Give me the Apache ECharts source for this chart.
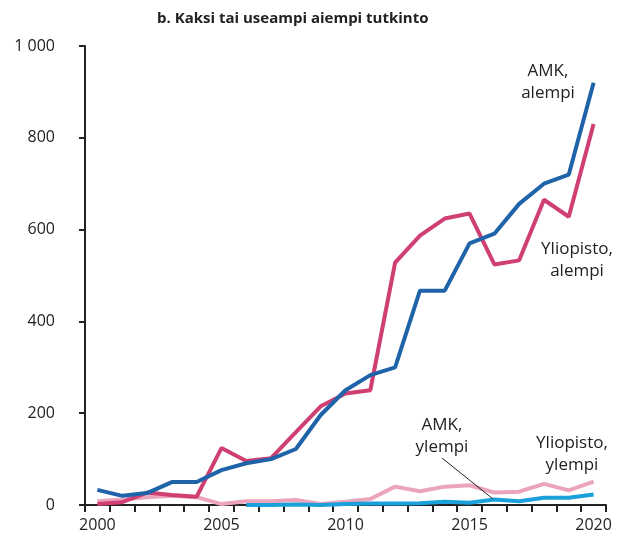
<!DOCTYPE html>
<html>
<head>
<meta charset="utf-8">
<script src="https://cdn.jsdelivr.net/npm/echarts@6/dist/echarts.min.js"></script>
<style>
  html, body { margin: 0; padding: 0; background: #fff; }
  #chart { width: 628px; height: 544px; }
</style>
</head>
<body>
<div id="chart"></div>
<script>
    var years = ['2000', '2001', '2002', '2003', '2004', '2005', '2006', '2007', '2008', '2009', '2010',
        '2011', '2012', '2013', '2014', '2015', '2016', '2017', '2018', '2019', '2020'];
    var amkAlempi = [33, 20, 26, 50, 50, 76, 91, 100, 122, 196, 250, 283, 300, 467, 467, 570, 591, 656, 700, 720, 920];
    var yoAlempi = [2, 6, 27, 22, 18, 124, 96, 102, 159, 215, 243, 250, 528, 587, 624, 635, 524, 533, 665, 628, 830];
    var yoYlempi = [8, 12, 17, 20, 17, 2, 8, 8, 11, 2, 7, 13, 40, 30, 40, 43, 27, 29, 46, 32, 51];
    var amkYlempi = [null, null, null, null, null, null, 0, 0, 1, 0, 2, 3, 3, 4, 7, 5, 12, 8, 16, 16, 23];
    var yTicks = [0, 200, 400, 600, 800, 1000];

    var font = '"Open Sans", "Noto Sans", sans-serif';
    var txt = '#222';

    // nimiöt viivojen vieressä
    function label(text, x, y) {
        return {
            type: 'text', x: x, y: y, z: 10,
            style: { text: text, font: '17px ' + font, fill: txt, align: 'center', verticalAlign: 'top', lineHeight: 22 }
        };
    }

    var myChart = echarts.init(document.getElementById('chart'));
    var option = {
        animation: false,
        title: {
            text: 'b. Kaksi tai useampi aiempi tutkinto',
            left: 152,
            top: 6,
            textStyle: { fontFamily: font, fontSize: 15, fontWeight: 'bold', color: txt }
        },
        grid: { left: 85, right: 22, top: 46, bottom: 39 },
        xAxis: {
            type: 'category',
            data: years,
            boundaryGap: true,
            axisLine: { lineStyle: { color: '#222', width: 2 } },
            axisTick: { show: true, interval: 0, length: 7, lineStyle: { color: '#222', width: 2 } },
            axisLabel: { interval: 4, margin: 12, fontFamily: font, fontSize: 16, color: txt },
            splitLine: { show: false }
        },
        yAxis: {
            type: 'value',
            min: yTicks[0],
            max: yTicks[yTicks.length - 1],
            interval: 200,
            axisLine: { show: true, lineStyle: { color: '#222', width: 2 } },
            axisTick: { show: true, length: 6, lineStyle: { color: '#222', width: 2 } },
            axisLabel: {
                margin: 30, fontFamily: font, fontSize: 16, color: txt,
                formatter: function (v) { return v >= 1000 ? '1 000' : String(v); }
            },
            splitLine: { show: false }
        },
        series: [
            { name: 'Yliopisto, ylempi', type: 'line', data: yoYlempi, symbol: 'none',
              lineStyle: { color: '#eba4bc', width: 4 }, z: 2 },
            { name: 'AMK, ylempi', type: 'line', data: amkYlempi, symbol: 'none',
              lineStyle: { color: '#1aa1db', width: 4 }, z: 3 },
            { name: 'Yliopisto, alempi', type: 'line', data: yoAlempi, symbol: 'none',
              lineStyle: { color: '#cf3f74', width: 4 }, z: 4 },
            { name: 'AMK, alempi', type: 'line', data: amkAlempi, symbol: 'none',
              lineStyle: { color: '#1f63a8', width: 4 }, z: 5 }
        ],
        graphic: [
            label('AMK,\nalempi', 548, 60),
            label('Yliopisto,\nalempi', 577, 238),
            label('AMK,\nylempi', 442, 414),
            label('Yliopisto,\nylempi', 572, 432),
            { type: 'line', shape: { x1: 442, y1: 458, x2: 493, y2: 499 }, style: { stroke: '#222', lineWidth: 1 }, z: 10 }
        ]
    };
    myChart.setOption(option);
</script>
</body>
</html>
